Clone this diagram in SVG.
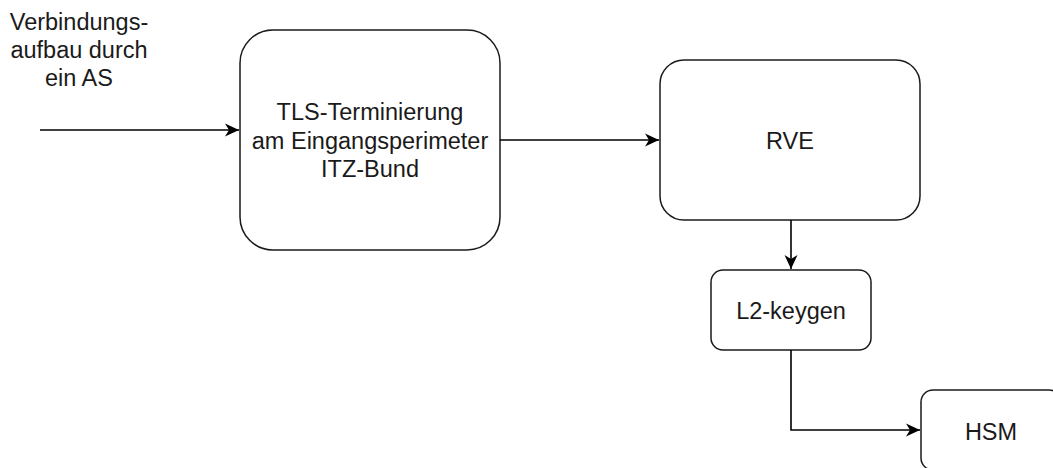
<svg xmlns="http://www.w3.org/2000/svg" width="1053" height="468" viewBox="0 0 1053 468">
<style>
.box{fill:#fff;stroke:#1a1a1a;stroke-width:1.5}
.t{font-family:"Liberation Sans",Arial,sans-serif;font-size:23.5px;fill:#1a1a1a;text-anchor:middle}
.c{fill:none;stroke:#000;stroke-width:1.6}
</style>
<defs>
<marker id="ah" markerWidth="16" markerHeight="16" refX="15" refY="8" orient="auto" markerUnits="userSpaceOnUse">
<path d="M1,1.5 L15,8 L1,14.5 L5,8 Z" fill="#000"/>
</marker>
</defs>
<rect width="1053" height="468" fill="#fff"/>
<g id="label-as">
<text class="t" x="79" y="30">Verbindungs-</text>
<text class="t" x="79" y="58">aufbau durch</text>
<text class="t" x="79" y="86">ein AS</text>
</g>
<g id="tls">
<rect class="box" x="240" y="30" width="260" height="220" rx="33"/>
<text class="t" x="370" y="120">TLS-Terminierung</text>
<text class="t" x="370" y="149">am Eingangsperimeter</text>
<text class="t" x="370" y="177">ITZ-Bund</text>
</g>
<g id="rve">
<rect class="box" x="660" y="60" width="260" height="160" rx="24"/>
<text class="t" x="790" y="149">RVE</text>
</g>
<g id="l2keygen">
<rect class="box" x="711" y="270" width="160" height="80" rx="12"/>
<text class="t" x="791" y="319">L2-keygen</text>
</g>
<g id="hsm">
<rect class="box" x="921" y="390" width="140" height="80" rx="12"/>
<text class="t" x="991" y="440">HSM</text>
</g>
<g id="connectors">
<path class="c" d="M40,130 H239" marker-end="url(#ah)"/>
<path class="c" d="M500,140 H659" marker-end="url(#ah)"/>
<path class="c" d="M791,220 V269" marker-end="url(#ah)"/>
<path class="c" d="M791,350 V430 H920" marker-end="url(#ah)"/>
</g>
</svg>
